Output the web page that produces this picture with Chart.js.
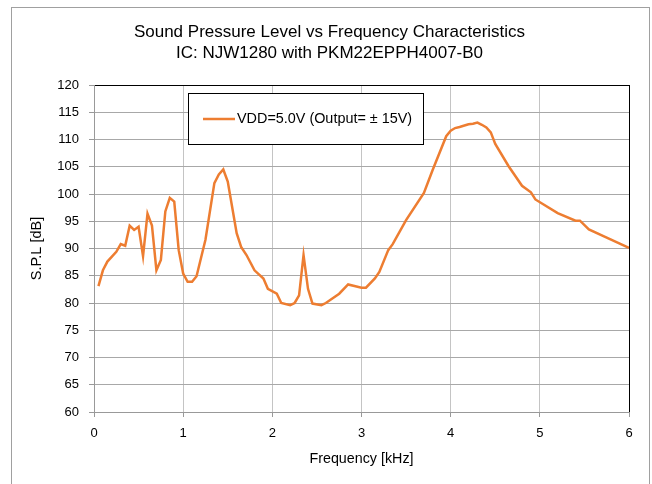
<!DOCTYPE html>
<html>
<head>
<meta charset="utf-8">
<script src="https://cdn.jsdelivr.net/npm/chart.js@4.4.1/dist/chart.umd.min.js"></script>
<style>
  html, body { margin: 0; padding: 0; background: #fff; }
  #wrap { width: 652px; height: 484px; }
</style>
</head>
<body>
<div id="wrap"><canvas id="myChart" width="652" height="484"></canvas></div>
<script>
// frequency in kHz
const freq = [0.05, 0.10, 0.15, 0.25, 0.30, 0.35, 0.40, 0.45, 0.50, 0.55,
  0.60, 0.65, 0.70, 0.75, 0.80, 0.85, 0.90, 0.95, 1.00, 1.05,
  1.10, 1.15, 1.25, 1.35, 1.40, 1.45, 1.50, 1.60, 1.65, 1.71,
  1.80, 1.90, 1.95, 2.05, 2.10, 2.20, 2.25, 2.30, 2.35, 2.40,
  2.45, 2.55, 2.60, 2.75, 2.85, 3.00, 3.05, 3.15, 3.20, 3.30,
  3.35, 3.50, 3.70, 3.80, 3.95, 4.00, 4.05, 4.10, 4.20, 4.25,
  4.30, 4.35, 4.40, 4.45, 4.50, 4.65, 4.80, 4.90, 4.95, 5.20,
  5.40, 5.45, 5.55, 5.75, 6.00];
// S.P.L in dB
const spl = [83.1, 86.0, 87.6, 89.4, 90.8, 90.5, 94.2, 93.4, 94.0, 88.6,
  96.4, 94.2, 86.0, 87.9, 96.8, 99.3, 98.6, 89.7, 85.4, 83.9,
  83.9, 84.9, 91.6, 102.0, 103.6, 104.5, 102.3, 92.8, 90.3, 88.8,
  86.0, 84.5, 82.6, 81.7, 80.0, 79.6, 80.0, 81.4, 88.8, 82.6,
  79.9, 79.6, 80.0, 81.7, 83.4, 82.8, 82.8, 84.5, 85.7, 89.7,
  90.8, 95.2, 100.2, 104.5, 110.6, 111.6, 112.1, 112.3, 112.8, 112.9,
  113.1, 112.7, 112.2, 111.3, 109.2, 105.1, 101.5, 100.3, 99.0, 96.5,
  95.1, 95.1, 93.5, 92.0, 90.1];

const titleLines = ['Sound Pressure Level vs Frequency Characteristics', 'IC: NJW1280 with PKM22EPPH4007-B0'];
const seriesLabel = 'VDD=5.0V (Output= \u00b1 15V)';
const lineColor = '#ED7D31';
const fontFam = '"Liberation Sans", Arial, sans-serif';

const points = freq.map((f, i) => ({ x: f, y: spl[i] }));

// outer frame + legend box inside the plot
const decor = {
  id: 'decor',
  beforeDraw(chart) {
    const c = chart.ctx;
    c.save();
    c.fillStyle = '#fff';
    c.fillRect(0, 0, chart.width, chart.height);
    c.strokeStyle = '#a0a0a0';
    c.lineWidth = 1;
    c.strokeRect(11.5, 7.5, 638, 490);
    c.restore();
  },
  beforeDatasetsDraw(chart) {
    const c = chart.ctx;
    const ds = chart.data.datasets[0];
    c.save();
    c.fillStyle = '#fff';
    c.fillRect(188, 93, 235, 51);
    c.strokeStyle = '#000';
    c.lineWidth = 1;
    c.strokeRect(188.5, 93.5, 235, 51);
    c.strokeStyle = ds.borderColor;
    c.lineWidth = 2.5;
    c.beginPath();
    c.moveTo(203, 119);
    c.lineTo(235, 119);
    c.stroke();
    c.fillStyle = '#000';
    c.font = '14.4px ' + fontFam;
    c.textBaseline = 'middle';
    c.fillText(ds.label, 237, 119);
    c.restore();
  }
};

new Chart(document.getElementById('myChart'), {
  type: 'line',
  data: {
    datasets: [{
      label: seriesLabel,
      data: points,
      borderColor: lineColor,
      backgroundColor: lineColor,
      borderWidth: 2.5,
      pointRadius: 0,
      tension: 0
    }]
  },
  options: {
    responsive: false,
    animation: false,
    layout: { padding: { left: 30, right: 23, top: 0, bottom: 0 } },
    plugins: {
      legend: { display: false },
      tooltip: { enabled: false },
      title: {
        display: true,
        text: titleLines,
        color: '#000',
        font: { family: fontFam, size: 17, weight: 'normal', lineHeight: 1.25 },
        padding: { top: 21.4, bottom: 21.1 }
      }
    },
    scales: {
      x: {
        type: 'linear',
        min: 0, max: 6,
        ticks: { stepSize: 1, color: '#000', padding: 9, font: { family: fontFam, size: 13 } },
        grid: {
          color: ctx => ctx.tick && ctx.tick.value === 6 ? '#000' : '#c4c4c4',
          tickColor: '#999',
          tickLength: 5
        },
        border: { color: '#999', width: 1 },
        title: {
          display: true, text: 'Frequency [kHz]', color: '#000',
          font: { family: fontFam, size: 14.3 }, padding: { top: 0, bottom: 16.5 }
        },
        afterFit: s => { s.height = 72; }
      },
      y: {
        min: 60, max: 120,
        ticks: { stepSize: 5, color: '#000', padding: 10, font: { family: fontFam, size: 13 } },
        grid: {
          color: ctx => ctx.tick && ctx.tick.value === 120 ? '#000' : '#a8a8a8',
          tickColor: '#999',
          tickLength: 5
        },
        border: { color: '#999', width: 1 },
        title: {
          display: true, text: 'S.P.L [dB]', color: '#000',
          font: { family: fontFam, size: 14.5, lineHeight: 1 }, padding: { top: 0, bottom: 0 }
        },
        afterFit: s => { s.width = 64; }
      }
    }
  },
  plugins: [decor]
});
</script>
</body>
</html>
